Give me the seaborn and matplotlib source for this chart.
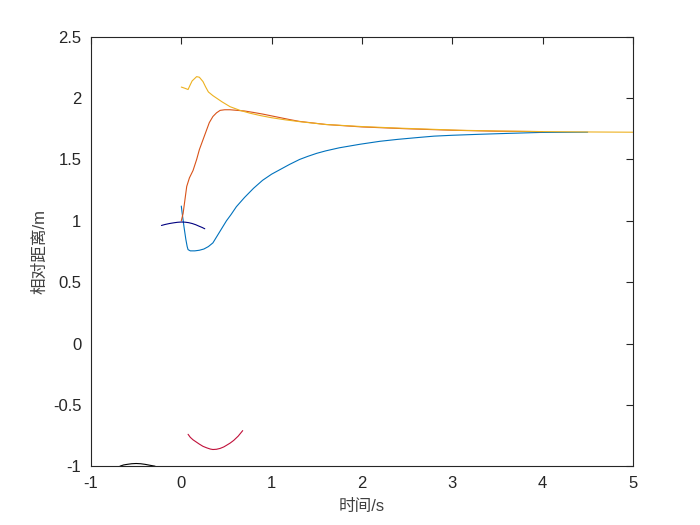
import numpy as np
import pandas as pd
import matplotlib
matplotlib.use("Agg")
import matplotlib.pyplot as plt
import seaborn as sns

# data
blue_t = [0.0, 0.01, 0.03, 0.05, 0.065, 0.075, 0.1, 0.15, 0.2, 0.25, 0.3, 0.35, 0.4, 0.45,
          0.5, 0.55, 0.61, 0.7, 0.8, 0.9, 1.0, 1.1, 1.2, 1.31, 1.4, 1.5, 1.6, 1.75, 1.98,
          2.2, 2.4, 2.64, 2.8, 3.0, 3.3, 3.6, 3.97, 4.5]
blue_y = [1.12, 1.06, 0.95, 0.85, 0.79, 0.765, 0.755, 0.755, 0.76, 0.77, 0.79, 0.82, 0.88, 0.94,
          1.0, 1.05, 1.115, 1.19, 1.265, 1.33, 1.38, 1.42, 1.46, 1.50, 1.525, 1.55, 1.57, 1.595, 1.624,
          1.648, 1.664, 1.68, 1.69, 1.697, 1.705, 1.712, 1.72, 1.722]

red_t = [0.0, 0.02, 0.04, 0.06, 0.09, 0.13, 0.17, 0.2, 0.24, 0.28, 0.31, 0.35, 0.39, 0.43,
         0.48, 0.54, 0.62, 0.7, 0.8, 0.9, 1.0, 1.1, 1.2, 1.31, 1.6, 2.0, 2.5, 3.0, 3.5, 4.0]
red_y = [1.0, 1.06, 1.17, 1.28, 1.35, 1.41, 1.50, 1.58, 1.66, 1.74, 1.80, 1.85, 1.88, 1.90,
         1.905, 1.905, 1.90, 1.895, 1.883, 1.87, 1.855, 1.84, 1.825, 1.81, 1.785, 1.765, 1.75,
         1.738, 1.73, 1.727]

orange_t = [0.0, 0.04, 0.075, 0.1, 0.12, 0.17, 0.2, 0.24, 0.27, 0.3, 0.35, 0.39, 0.45, 0.54,
            0.65, 0.76, 0.88, 1.0, 1.15, 1.31, 1.6, 2.0, 2.42, 3.08, 3.5, 4.0, 4.5, 5.0]
orange_y = [2.09, 2.08, 2.07, 2.11, 2.14, 2.175, 2.17, 2.135, 2.09, 2.05, 2.02, 2.0, 1.97, 1.93,
            1.9, 1.877, 1.857, 1.84, 1.823, 1.808, 1.785, 1.768, 1.755, 1.738, 1.732, 1.727,
            1.724, 1.722]

navy_t = [-0.22, -0.18, -0.13, -0.08, -0.04, 0.0, 0.04, 0.08, 0.12, 0.16, 0.2, 0.23, 0.26]
navy_y = [0.962, 0.970, 0.978, 0.984, 0.988, 0.99, 0.989, 0.985, 0.978, 0.968, 0.955, 0.946, 0.935]

crimson_t = [0.075, 0.1, 0.13, 0.17, 0.2, 0.24, 0.28, 0.32, 0.35, 0.39, 0.43, 0.47, 0.5,
             0.54, 0.58, 0.63, 0.68]
crimson_y = [-0.74, -0.765, -0.785, -0.805, -0.82, -0.838, -0.85, -0.86, -0.864, -0.862,
             -0.855, -0.843, -0.83, -0.812, -0.79, -0.755, -0.71]

black_t = [-0.68, -0.64, -0.6, -0.55, -0.5, -0.45, -0.4, -0.35, -0.29]
black_y = [-1.0, -0.99, -0.985, -0.98, -0.978, -0.98, -0.985, -0.992, -1.0]

xticks = [-1, 0, 1, 2, 3, 4, 5]
yticks = [-1, -0.5, 0, 0.5, 1, 1.5, 2, 2.5]
ytick_labels = ["-1", "-0.5", "0", "0.5", "1", "1.5", "2", "2.5"]
xtick_labels = ["-1", "0", "1", "2", "3", "4", "5"]

sns.set_theme(style="white")
plt.rcParams['font.family'] = ['Liberation Sans', 'Noto Sans CJK SC', 'DejaVu Sans']

fig = plt.figure(figsize=(7, 5.25), dpi=100)
ax = fig.add_axes([0.13, 0.112, 0.774, 0.818])

series = [
    (blue_t, blue_y, "#0072BD"),
    (red_t, red_y, "#D95319"),
    (orange_t, orange_y, "#EDB120"),
    (navy_t, navy_y, "#000080"),
    (crimson_t, crimson_y, "#C0103A"),
    (black_t, black_y, "black"),
]
for t, y, c in series:
    df = pd.DataFrame({"t": t, "y": y})
    sns.lineplot(data=df, x="t", y="y", ax=ax, sort=False, estimator=None,
                 color=c, lw=0.8, clip_on=False)

ax.set_xlim(-1, 5)
ax.set_ylim(-1, 2.5)
ax.set_xticks(xticks)
ax.set_xticklabels(xtick_labels)
ax.set_yticks(yticks)
ax.set_yticklabels(ytick_labels)
ax.tick_params(direction="in", length=5, width=0.8, top=True, right=True,
               labelsize=12, colors="#262626", pad=7)
for s in ax.spines.values():
    s.set_color("#262626")
    s.set_linewidth(0.8)

ax.set_xlabel("时间/s", fontsize=12, color="#404040", labelpad=6)
ax.set_ylabel("相对距离/m", fontsize=12, color="#404040", labelpad=4)

fig.savefig("out.png", dpi=100, facecolor="white")
